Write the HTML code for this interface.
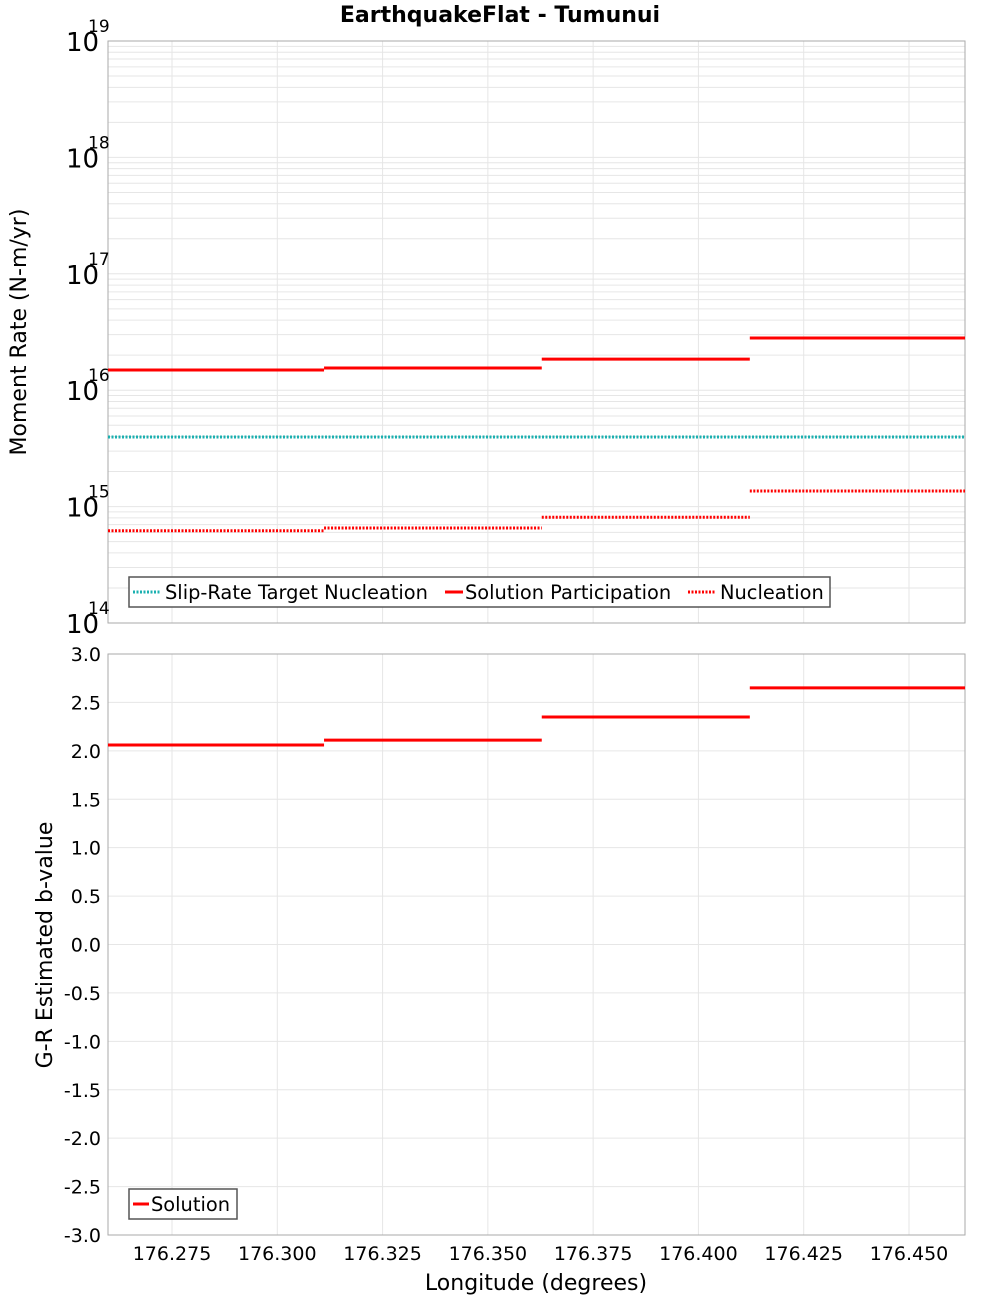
<!DOCTYPE html>
<html><head><meta charset="utf-8"><style>
body{margin:0;background:#fff;}
svg{display:block;font-family:"DejaVu Sans","Liberation Sans",sans-serif;}
</style></head><body>
<svg id="c" width="1000" height="1300">
<text x="500" y="22" text-anchor="middle" font-size="22" font-weight="bold">EarthquakeFlat - Tumunui</text>
<g id="topG"></g>
<g id="botG"></g>
<text transform="translate(26,332) rotate(-90)" text-anchor="middle" font-size="22">Moment Rate (N-m/yr)</text>
<text transform="translate(52,945) rotate(-90)" text-anchor="middle" font-size="22">G-R Estimated b-value</text>
<text x="536" y="1290" text-anchor="middle" font-size="22">Longitude (degrees)</text>
<g id="legend1">
<rect x="129" y="577" width="701" height="30" fill="#fff" stroke="#555" stroke-width="1.5"/>
<line x1="133" y1="592" x2="161" y2="592" stroke="#1ab0b0" stroke-width="3" stroke-dasharray="2,1.5"/>
<text x="165" y="599" font-size="19.4">Slip-Rate Target Nucleation</text>
<line x1="445" y1="592" x2="463" y2="592" stroke="#f00" stroke-width="3"/>
<text x="465" y="599" font-size="19.4">Solution Participation</text>
<line x1="688" y1="592" x2="716" y2="592" stroke="#f00" stroke-width="3" stroke-dasharray="2,1.5"/>
<text x="720" y="599" font-size="19.4">Nucleation</text>
</g>
<g id="legend2">
<rect x="129" y="1189" width="108" height="30" fill="#fff" stroke="#555" stroke-width="1.5"/>
<line x1="133" y1="1204" x2="149" y2="1204" stroke="#f00" stroke-width="3"/>
<text x="151" y="1211" font-size="19.4">Solution</text>
</g>
</svg>
<script>
const binEdges=[176.2598,176.3111,176.3628,176.4122,176.4633];
const participation=[1.49e16,1.55e16,1.85e16,2.81e16];
const nucleation=[6.2e14,6.55e14,8.1e14,1.36e15];
const targetNucleation=[3.96e15];
const bValues=[2.06,2.11,2.35,2.65];
const xTicks=[176.275,176.300,176.325,176.350,176.375,176.400,176.425,176.450];
const bTicks=[3.0,2.5,2.0,1.5,1.0,0.5,0.0,-0.5,-1.0,-1.5,-2.0,-2.5,-3.0];
const logExps=[14,15,16,17,18,19];

const NS="http://www.w3.org/2000/svg";
const L=108,R=965,T1=41,B1=623,T2=654,B2=1235;
const xMin=176.2598,xMax=176.4633;
const X=v=>L+(v-xMin)/(xMax-xMin)*(R-L);
const Y1=v=>B1-(Math.log10(v)-14)/5*(B1-T1);
const Y2=v=>B2-(v+3)/6*(B2-T2);
function mk(p,tag,a){const e=document.createElementNS(NS,tag);for(const k in a)e.setAttribute(k,a[k]);p.appendChild(e);return e;}
const topG=document.getElementById('topG'),botG=document.getElementById('botG');
const svgEl=document.getElementById('c');
mk(topG,'rect',{x:L,y:T1,width:R-L,height:B1-T1,fill:'#fff',stroke:'none'});
mk(botG,'rect',{x:L,y:T2,width:R-L,height:B2-T2,fill:'#fff',stroke:'none'});
for(let e=14;e<19;e++)for(let m=1;m<10;m++){const y=Y1(m*Math.pow(10,e));
 const g=mk(topG,'line',{x1:L,x2:R,y1:y,y2:y,stroke:'#e6e6e6','stroke-width':1});
 
 }
xTicks.forEach(t=>{const x=X(t);
 const g1=mk(topG,'line',{x1:x,x2:x,y1:T1,y2:B1,stroke:'#e6e6e6'});
 
 
 const g2=mk(botG,'line',{x1:x,x2:x,y1:T2,y2:B2,stroke:'#e6e6e6'});
 
 
 const tx=mk(svgEl,'text',{x:x,y:1260,'text-anchor':'middle','font-size':19});tx.textContent=t.toFixed(3);
 
 });
bTicks.forEach(t=>{const y=Y2(t);
 const g=mk(botG,'line',{x1:L,x2:R,y1:y,y2:y,stroke:'#e6e6e6'});
 
 
 const tx=mk(svgEl,'text',{x:101,y:y+7,'text-anchor':'end','font-size':19});tx.textContent=t.toFixed(1);
 
 });
logExps.forEach(e=>{const y=Y1(Math.pow(10,e));
 const tx=mk(svgEl,'text',{x:66,y:y+10,'font-size':26});tx.textContent='10';
 
 
 const s=mk(svgEl,'text',{x:88,y:y-9,'font-size':17});s.textContent=String(e);
 
 });
mk(topG,'rect',{x:L,y:T1,width:R-L,height:B1-T1,fill:'none',stroke:'#aaa'});
mk(botG,'rect',{x:L,y:T2,width:R-L,height:B2-T2,fill:'none',stroke:'#aaa'});
{const y=Y1(targetNucleation[0]);
 const l=mk(topG,'line',{x1:L,x2:R,y1:y,y2:y,stroke:'#1ab0b0','stroke-width':3,'stroke-dasharray':'2,1.5'});
 
 }
for(let i=0;i<4;i++){
 const x1=X(binEdges[i]),x2=X(binEdges[i+1]);
 let y=Y1(participation[i]);
 let l=mk(topG,'line',{x1:x1,x2:x2,y1:y,y2:y,stroke:'#f00','stroke-width':3});
 
 
 y=Y1(nucleation[i]);
 l=mk(topG,'line',{x1:x1,x2:x2,y1:y,y2:y,stroke:'#f00','stroke-width':3,'stroke-dasharray':'2,1.5'});
 
 
 y=Y2(bValues[i]);
 l=mk(botG,'line',{x1:x1,x2:x2,y1:y,y2:y,stroke:'#f00','stroke-width':3});
 
 
}
svgEl.appendChild(document.getElementById('legend1'));
svgEl.appendChild(document.getElementById('legend2'));
</script>
</body></html>
